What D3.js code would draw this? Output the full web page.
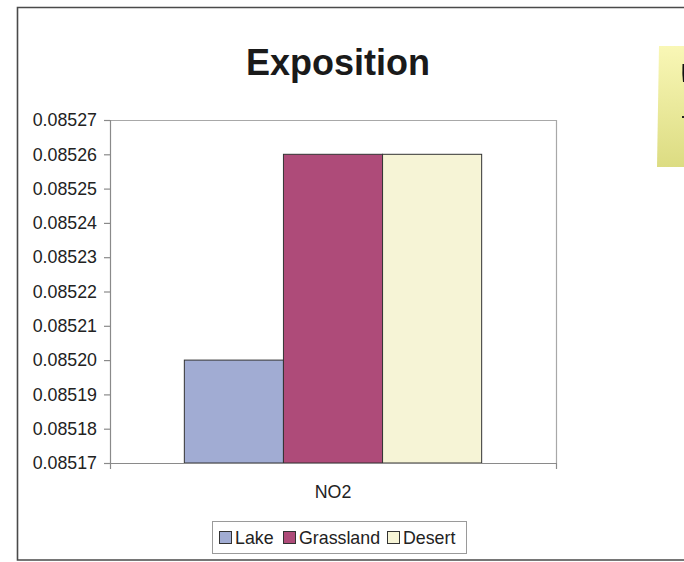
<!DOCTYPE html>
<html>
<head>
<meta charset="utf-8">
<script src="https://cdn.jsdelivr.net/npm/d3@7/dist/d3.min.js"></script>
<style>
  html, body { margin: 0; padding: 0; background: #fff; }
  svg { display: block; font-family: "Liberation Sans", Arial, sans-serif; }
</style>
</head>
<body>
<svg id="chart" width="684" height="562"></svg>
<script>
// Chart data
const categories = ["NO2"];
const seriesNames = ["Lake", "Grassland", "Desert"];
const seriesValues = [0.08520, 0.08526, 0.08526];
const seriesColors = ["#a1acd3", "#ae4b79", "#f6f4d6"];
const yTicks = [0.08517, 0.08518, 0.08519, 0.08520, 0.08521, 0.08522, 0.08523, 0.08524, 0.08525, 0.08526, 0.08527];
const title = "Exposition";

const svg = d3.select("#chart");
const labelSize = 17.8;

// Outer frame (left, top, bottom edges)
svg.append("path")
  .attr("d", "M684,7.5 H17.5 V560 H684")
  .attr("fill", "none")
  .attr("stroke", "#4a4a4a")
  .attr("stroke-width", 1.6);

// Sticky-note shape at the right edge
const grad = svg.append("defs").append("linearGradient")
  .attr("id", "note").attr("x1", 0).attr("y1", 0).attr("x2", 0).attr("y2", 1);
grad.append("stop").attr("offset", "0%").attr("stop-color", "#f9f7b6");
grad.append("stop").attr("offset", "100%").attr("stop-color", "#dcdc82");
svg.append("path")
  .attr("d", "M659,46 L684,46 L684,167 L657,167 Z")
  .attr("fill", "url(#note)");
svg.append("path")
  .attr("d", "M682.5,64 Q682,74 683,82 L684,82 L684,64 Z")
  .attr("fill", "#111");
svg.append("rect").attr("x", 682).attr("y", 116).attr("width", 2).attr("height", 2).attr("fill", "#222");

// Title
svg.append("text")
  .attr("x", 338).attr("y", 75)
  .attr("text-anchor", "middle")
  .attr("font-size", 36).attr("font-weight", "bold")
  .attr("fill", "#1a1a1a")
  .text(title);

// Plot area
const plot = { left: 110, top: 120, right: 556, bottom: 463 };

const y = d3.scaleLinear()
  .domain([d3.min(yTicks), d3.max(yTicks)])
  .range([plot.bottom, plot.top]);

const x0 = d3.scaleBand()
  .domain(categories)
  .range([plot.left, plot.right])
  .paddingInner(0).paddingOuter(0);

// Gap width of 150% => bars fill 3/4.5 of the band
const groupWidth = x0.bandwidth() * 3 / 4.5;
const x1 = d3.scaleBand()
  .domain(seriesNames)
  .range([0, groupWidth]);

// Plot area border (top & right)
svg.append("path")
  .attr("d", `M${plot.left},${plot.top + 0.5} H${plot.right + 0.5} V${plot.bottom}`)
  .attr("fill", "none")
  .attr("stroke", "#a8a8a8")
  .attr("stroke-width", 1.2);

// Bars
const g = svg.append("g");
categories.forEach((cat) => {
  const gx = x0(cat) + (x0.bandwidth() - groupWidth) / 2;
  g.selectAll(null)
    .data(seriesNames.map((s, i) => ({ s, v: seriesValues[i], c: seriesColors[i] })))
    .join("rect")
    .attr("x", d => gx + x1(d.s))
    .attr("y", d => y(d.v))
    .attr("width", x1.bandwidth())
    .attr("height", d => plot.bottom - y(d.v))
    .attr("fill", d => d.c)
    .attr("stroke", "#333")
    .attr("stroke-width", 1);
});

// Y axis
const yAxis = d3.axisLeft(y)
  .tickValues(yTicks)
  .tickFormat(d3.format(".5f"))
  .tickSize(6)
  .tickPadding(7);
const yg = svg.append("g")
  .attr("transform", `translate(${plot.left},0)`)
  .call(yAxis);
yg.select(".domain").attr("stroke", "#8a8a8a").attr("stroke-width", 1.2);
yg.selectAll(".tick line").attr("stroke", "#8a8a8a").attr("stroke-width", 1.2);
yg.selectAll(".tick text")
  .attr("font-size", labelSize)
  .attr("font-family", "Liberation Sans, Arial, sans-serif")
  .attr("fill", "#222");

// X axis
const xAxis = d3.axisBottom(x0).tickSize(0).tickPadding(22);
const xg = svg.append("g")
  .attr("transform", `translate(0,${plot.bottom})`)
  .call(xAxis);
xg.select(".domain").attr("stroke", "#8a8a8a").attr("stroke-width", 1.2);
xg.selectAll(".tick text")
  .attr("font-size", labelSize)
  .attr("font-family", "Liberation Sans, Arial, sans-serif")
  .attr("fill", "#222");
// Category boundary ticks
const bounds = [plot.left, plot.right];
xg.selectAll(".bound")
  .data(bounds)
  .join("line")
  .attr("x1", d => d + 0.5).attr("x2", d => d + 0.5)
  .attr("y1", 0).attr("y2", 6)
  .attr("stroke", "#8a8a8a").attr("stroke-width", 1.2);

// Legend
const legend = svg.append("g");
legend.append("rect")
  .attr("x", 212.5).attr("y", 521.5)
  .attr("width", 254).attr("height", 32)
  .attr("fill", "#fff")
  .attr("stroke", "#9a9a9a");
const legendX = [219, 283, 387];
seriesNames.forEach((s, i) => {
  legend.append("rect")
    .attr("x", legendX[i] + 0.5).attr("y", 531.5)
    .attr("width", 12).attr("height", 12)
    .attr("fill", seriesColors[i])
    .attr("stroke", "#333");
  legend.append("text")
    .attr("x", legendX[i] + 16).attr("y", 544)
    .attr("font-size", labelSize)
    .attr("fill", "#222")
    .text(s);
});
</script>
</body>
</html>
